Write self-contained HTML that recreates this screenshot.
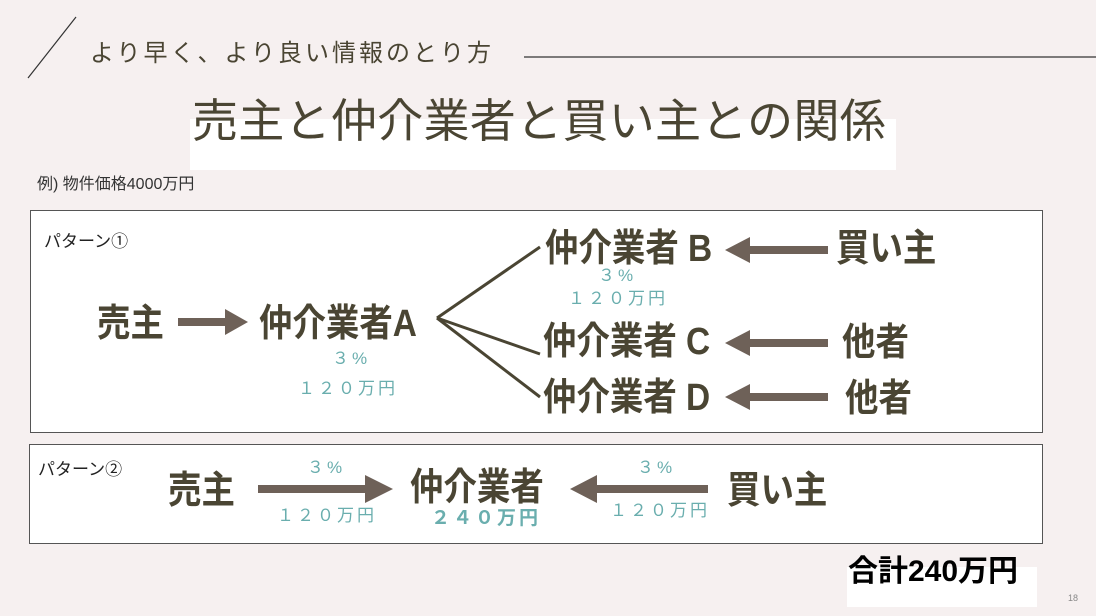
<!DOCTYPE html>
<html><head><meta charset="utf-8"><style>
body{margin:0;width:1096px;height:616px;background:#f6f0f0;position:relative;overflow:hidden;font-family:"Liberation Sans","Noto Sans CJK JP",sans-serif;}
.t{position:absolute;line-height:1;white-space:nowrap;}
.b{font-weight:bold;color:#4a4533;font-size:38px;transform-origin:0 50%;transform:scaleX(0.88);}
.g{color:#6aaeae;font-size:17px;letter-spacing:3px;}
.box{position:absolute;background:#fff;border:1px solid #555;box-sizing:border-box;}
</style></head><body>
<svg width="1096" height="616" style="position:absolute;left:0;top:0">
<line x1="28" y1="78" x2="76" y2="17" stroke="#333" stroke-width="1.2"/>
<line x1="524" y1="57" x2="1096" y2="57" stroke="#333" stroke-width="1.2"/>
</svg>
<div class="t" style="left:90px;top:42px;font-size:24px;color:#4a4533;letter-spacing:3px">より早く、より良い情報のとり方</div>
<div style="position:absolute;left:190px;top:119px;width:706px;height:51px;background:#fff"></div>
<div class="t" style="left:192px;top:98px;font-size:46px;color:#4a4533;letter-spacing:0.3px">売主と仲介業者と買い主との関係</div>
<div class="t" style="left:37px;top:177px;font-size:16px;color:#333">例) 物件価格4000万円</div>
<div class="box" style="left:30px;top:210px;width:1013px;height:223px"></div>
<div class="box" style="left:29px;top:444px;width:1014px;height:100px"></div>
<div style="position:absolute;left:847px;top:567px;width:190px;height:40px;background:#fff"></div>
<div class="t" style="left:848px;top:557px;font-size:30px;font-weight:bold;color:#000">合計240万円</div>
<div class="t" style="left:1068px;top:594px;font-size:9px;color:#888">18</div>

<div class="t" style="left:44px;top:233px;font-size:17px;color:#222">パターン①</div>
<div class="t" style="left:38px;top:461px;font-size:17px;color:#222">パターン②</div>

<svg width="1096" height="616" style="position:absolute;left:0;top:0">
<g fill="#6e6158">
<polygon points="178,318 225,318 225,309 248,322 225,335 225,326 178,326"/>
<polygon points="828,246 750,246 750,237 725,250 750,263 750,254 828,254"/>
<polygon points="828,339 750,339 750,330 725,343 750,356 750,347 828,347"/>
<polygon points="828,393 750,393 750,384 725,397 750,410 750,401 828,401"/>
<polygon points="258,485 365,485 365,475 393,489 365,503 365,493 258,493"/>
<polygon points="708,485 597,485 597,475 570,489 597,503 597,493 708,493"/>
</g>
<g stroke="#4a4533" stroke-width="3" fill="none">
<line x1="437" y1="318" x2="540" y2="247"/>
<line x1="437" y1="318" x2="540" y2="354"/>
<line x1="437" y1="318" x2="540" y2="397"/>
</g>
</svg>

<div class="t b" style="left:97px;top:305px">売主</div>
<div class="t b" style="left:259px;top:305px">仲介業者A</div>
<div class="t b" style="left:545px;top:230px">仲介業者 B</div>
<div class="t b" style="left:543px;top:323px">仲介業者 C</div>
<div class="t b" style="left:543px;top:379px">仲介業者 D</div>
<div class="t b" style="left:836px;top:230px">買い主</div>
<div class="t b" style="left:842px;top:324px">他者</div>
<div class="t b" style="left:845px;top:380px">他者</div>
<div class="t g" style="left:332px;top:350px">３%</div>
<div class="t g" style="left:298px;top:380px">１２０万円</div>
<div class="t g" style="left:598px;top:267px">３%</div>
<div class="t g" style="left:568px;top:290px">１２０万円</div>

<div class="t b" style="left:168px;top:472px">売主</div>
<div class="t b" style="left:410px;top:469px">仲介業者</div>
<div class="t b" style="left:727px;top:472px">買い主</div>
<div class="t g" style="left:307px;top:459px">３%</div>
<div class="t g" style="left:277px;top:507px">１２０万円</div>
<div class="t g" style="left:637px;top:459px">３%</div>
<div class="t g" style="left:610px;top:502px">１２０万円</div>
<div class="t g" style="left:431px;top:509px;font-size:19px;font-weight:bold">２４０万円</div>
</body></html>
